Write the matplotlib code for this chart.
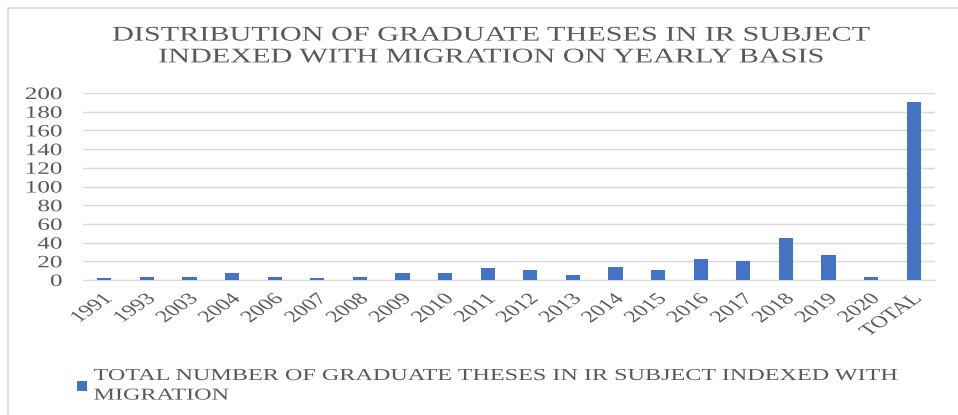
import matplotlib
matplotlib.use("Agg")
import matplotlib.pyplot as plt
from matplotlib.patches import Rectangle
from matplotlib.patheffects import AbstractPathEffect
from matplotlib.transforms import Affine2D

# values
years = ["1991", "1993", "2003", "2004", "2006", "2007", "2008", "2009", "2010",
         "2011", "2012", "2013", "2014", "2015", "2016", "2017", "2018", "2019",
         "2020", "TOTAL"]
theses = [2, 3, 3, 7, 3, 2, 3, 7, 8, 13, 11, 5, 14, 11, 22, 20, 45, 27, 3, 190]
yticks = list(range(0, 201, 20))

title = ("DISTRIBUTION OF GRADUATE THESES IN IR SUBJECT\n"
         "INDEXED WITH MIGRATION ON YEARLY BASIS")
series_label = ("TOTAL NUMBER OF GRADUATE THESES IN IR SUBJECT INDEXED WITH\n"
                "MIGRATION")

plt.rcParams['font.family'] = ['Liberation Serif', 'DejaVu Serif']
txt_col = '#595959'
SX = 1.45  # the source picture is stretched sideways


class Stretch(AbstractPathEffect):
    """widen the glyphs horizontally around one edge (or the middle) of each line"""
    def __init__(self, sx, mode):
        super().__init__()
        self.sx = sx
        self.mode = mode

    def draw_path(self, renderer, gc, tpath, affine, rgbFace=None):
        bb = tpath.get_extents(affine)
        px = {'left': bb.x0, 'center': (bb.x0 + bb.x1) / 2, 'right': bb.x1}[self.mode]
        t = affine + Affine2D().translate(-px, 0).scale(self.sx, 1).translate(px, 0)
        renderer.draw_path(gc, tpath, t, rgbFace)


fig = plt.figure(figsize=(9.58, 4.15), dpi=100)
W, H = 958, 415

# light outer frame like the office chart area
fig.patches.append(Rectangle((8 / W, -0.05), 1.1, (H - 8) / H + 0.05,
                             transform=fig.transFigure, fill=False,
                             edgecolor='#d9d9d9', linewidth=1.2))

ax = fig.add_axes([83 / W, (H - 280) / H, (935 - 83) / W, (280 - 93) / H])
x = range(len(years))
bars = ax.bar(x, theses, width=0.33, color='#4472C4', zorder=3,
              label=series_label)

ax.set_ylim(0, 200)
ax.set_xlim(-0.5, len(years) - 0.5)
ax.set_yticks(yticks)
ax.set_yticklabels([str(v) for v in yticks], fontsize=12.5, color=txt_col)
ax.set_xticks(list(x))
ax.set_xticklabels(years, rotation=45, ha='right', rotation_mode='anchor',
                   fontsize=12, color=txt_col)
ax.tick_params(axis='both', length=0)
ax.tick_params(axis='x', pad=8)
ax.tick_params(axis='y', pad=15)
ax.grid(axis='y', color='#d9d9d9', linewidth=1, zorder=0)
for s in ['top', 'right', 'left']:
    ax.spines[s].set_visible(False)
ax.spines['bottom'].set_color('#d9d9d9')

for t in ax.get_yticklabels():
    t.set_path_effects([Stretch(SX, 'right')])
for t in ax.get_xticklabels():
    t.set_path_effects([Stretch(SX, 'right')])

ttl = fig.text(492 / W, 1 - 47 / H, title, ha='center', va='center',
               fontsize=15, color=txt_col, linespacing=1.2)
ttl.set_path_effects([Stretch(SX, 'center')])

leg = fig.legend(handles=[bars], labels=[series_label], loc='upper left',
                 bbox_to_anchor=(62 / W, 1 - 353 / H), frameon=False,
                 fontsize=12, handlelength=0.6, handleheight=0.6,
                 handletextpad=0.4, labelcolor=txt_col)
for t in leg.get_texts():
    t.set_linespacing(1.3)
    t.set_path_effects([Stretch(SX, 'left')])

fig.savefig("out.png", dpi=100, facecolor='white')
